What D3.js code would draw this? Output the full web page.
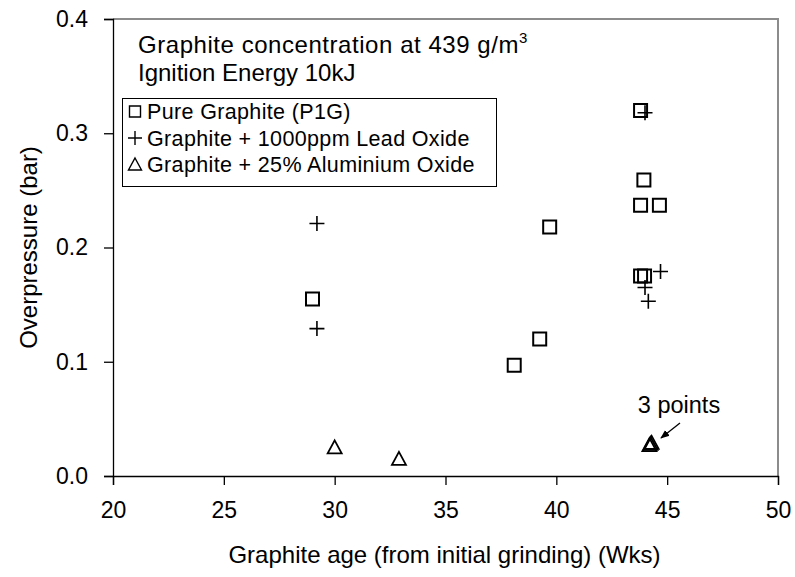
<!DOCTYPE html>
<html>
<head>
<meta charset="utf-8">
<script src="https://cdn.jsdelivr.net/npm/d3@7"></script>
<style>
  html, body { margin: 0; padding: 0; background: #fff; }
  svg { display: block; font-family: "Liberation Sans", Arial, sans-serif; }
</style>
</head>
<body>
<svg id="chart" width="795" height="577"></svg>
<script>
// Overpressure vs graphite age, three powder mixtures
const pureGraphite = [
  [29.0, 0.155], [38.1, 0.097], [39.25, 0.120], [39.7, 0.218],
  [43.8, 0.320], [43.95, 0.259], [43.8, 0.237], [44.65, 0.237],
  [43.8, 0.175], [43.98, 0.175]
];
const leadOxide = [
  [29.2, 0.221], [29.2, 0.129], [44.0, 0.318], [44.7, 0.179],
  [44.0, 0.165], [44.15, 0.153]
];
const aluminiumOxide = [
  [30.0, 0.025], [32.9, 0.015], [44.2, 0.027], [44.25, 0.028], [44.3, 0.029]
];
const xTicks = [20, 25, 30, 35, 40, 45, 50];
const yTicks = [0.0, 0.1, 0.2, 0.3, 0.4];
const legendLabels = [
  "Pure Graphite (P1G)",
  "Graphite + 1000ppm Lead Oxide",
  "Graphite + 25% Aluminium Oxide"
];

const svg = d3.select("#chart");
const margin = { left: 113, right: 778, top: 19, bottom: 476 };

const x = d3.scaleLinear().domain([20, 50]).range([margin.left, margin.right]);
const y = d3.scaleLinear().domain([0, 0.4]).range([margin.bottom, margin.top]);

// plot frame (top and right edges)
svg.append("path")
  .attr("d", `M${margin.left},${margin.top}H${margin.right}V${margin.bottom}`)
  .attr("fill", "none").attr("stroke", "#8c8c8c").attr("stroke-width", 2);

// axes
const xAxis = svg.append("g")
  .attr("transform", `translate(0,${margin.bottom})`)
  .call(d3.axisBottom(x).tickValues(xTicks).tickSize(9).tickPadding(17).tickFormat(d3.format("d")));
const yAxis = svg.append("g")
  .attr("transform", `translate(${margin.left},0)`)
  .call(d3.axisLeft(y).tickValues(yTicks).tickSize(9).tickPadding(16).tickFormat(d3.format(".1f")));
[xAxis, yAxis].forEach(g => {
  g.select(".domain").attr("stroke", "#000").attr("stroke-width", 1.3);
  g.selectAll(".tick line").attr("stroke", "#000").attr("stroke-width", 1.3);
  g.selectAll(".tick text").attr("fill", "#000").style("font-size", "23px")
    .style("font-family", "'Liberation Sans', Arial, sans-serif");
});

// axis titles
svg.append("text")
  .attr("x", (margin.left + margin.right) / 2 - 1).attr("y", 563)
  .attr("text-anchor", "middle").style("font-size", "24px")
  .text("Graphite age (from initial grinding) (Wks)");
svg.append("text")
  .attr("transform", `translate(37,${(margin.top + margin.bottom) / 2}) rotate(-90)`)
  .attr("text-anchor", "middle").style("font-size", "24px")
  .text("Overpressure (bar)");

// marker shapes
const half = 6.5;
function squarePath(cx, cy, s) { return `M${cx - s},${cy - s}h${2 * s}v${2 * s}h${-2 * s}Z`; }
function plusPath(cx, cy, s) { return `M${cx - s},${cy}h${2 * s}M${cx},${cy - s}v${2 * s}`; }
function trianglePath(cx, cy, s) { return `M${cx},${cy - s}L${cx + s},${cy + s * 0.85}L${cx - s},${cy + s * 0.85}Z`; }

const marks = svg.append("g").attr("fill", "none").attr("stroke", "#000");
marks.selectAll("path.sq").data(pureGraphite).join("path").attr("class", "sq")
  .attr("d", d => squarePath(x(d[0]), y(d[1]), half)).attr("stroke-width", 2);
marks.selectAll("path.pl").data(leadOxide).join("path").attr("class", "pl")
  .attr("d", d => plusPath(x(d[0]), y(d[1]), 7.5)).attr("stroke-width", 1.6);
marks.selectAll("path.tr").data(aluminiumOxide).join("path").attr("class", "tr")
  .attr("d", d => trianglePath(x(d[0]), y(d[1]), 7)).attr("stroke-width", 1.8);

// annotation for the overlapping triangles
svg.append("text").attr("x", 679).attr("y", 413).attr("text-anchor", "middle")
  .style("font-size", "23.5px").text("3 points");
svg.append("defs").append("marker")
  .attr("id", "arrowhead").attr("viewBox", "0 0 10 10").attr("refX", 9).attr("refY", 5)
  .attr("markerWidth", 7).attr("markerHeight", 7).attr("orient", "auto")
  .append("path").attr("d", "M0,1L10,5L0,9Z").attr("fill", "#000");
svg.append("line").attr("x1", 680).attr("y1", 423).attr("x2", 661).attr("y2", 438)
  .attr("stroke", "#000").attr("stroke-width", 1.3).attr("marker-end", "url(#arrowhead)");

// header text
const header = svg.append("text").attr("x", 138).attr("y", 53).style("font-size", "24px");
header.append("tspan").style("letter-spacing", "0.55px").text("Graphite concentration at 439 g/m");
header.append("tspan").attr("dy", -10).style("font-size", "15px").text("3");
svg.append("text").attr("x", 138).attr("y", 81).style("font-size", "24px").text("Ignition Energy 10kJ");

// legend
const legend = svg.append("g");
legend.append("rect").attr("x", 122.5).attr("y", 98.5).attr("width", 374).attr("height", 88)
  .attr("fill", "#fff").attr("stroke", "#000").attr("stroke-width", 1);
const legendShapes = [
  (cx, cy) => squarePath(cx, cy, 5.5),
  (cx, cy) => plusPath(cx, cy, 7),
  (cx, cy) => trianglePath(cx, cy, 6.5)
];
legendLabels.forEach((label, i) => {
  const cy = 111.5 + i * 26.5;
  legend.append("path").attr("d", legendShapes[i](135, cy))
    .attr("fill", "none").attr("stroke", "#000").attr("stroke-width", 1.4);
  legend.append("text").attr("x", 147).attr("y", cy + 7.5).style("font-size", "21.5px")
    .style("letter-spacing", "0.35px").text(label);
});
</script>
</body>
</html>
